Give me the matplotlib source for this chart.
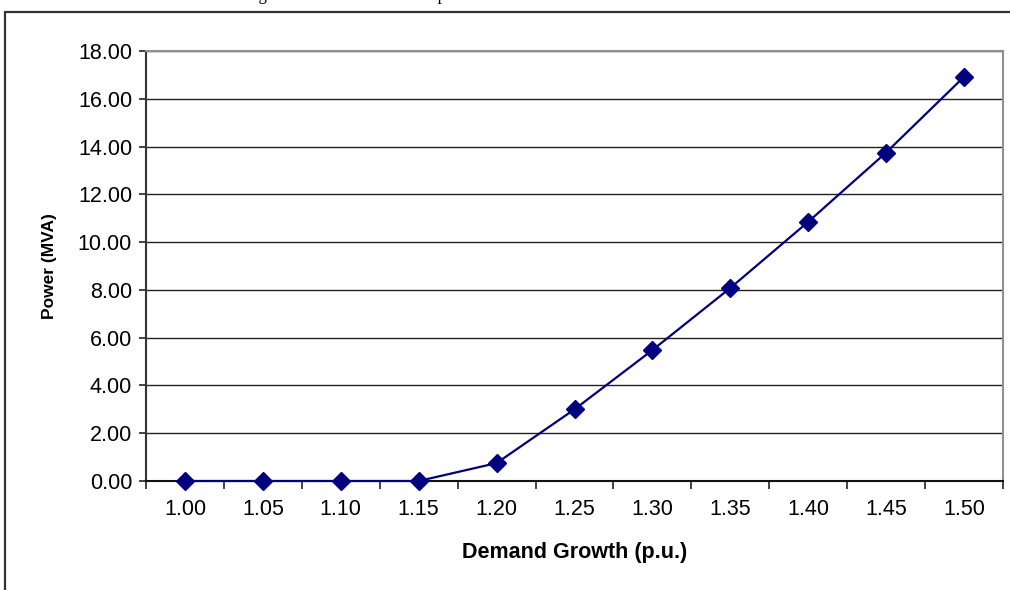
import numpy as np
import matplotlib
matplotlib.use("Agg")
import matplotlib.pyplot as plt
from matplotlib.patches import Rectangle

plt.rcParams['font.family'] = ['Liberation Sans', 'DejaVu Sans']

growth_labels = ["1.00", "1.05", "1.10", "1.15", "1.20", "1.25",
                 "1.30", "1.35", "1.40", "1.45", "1.50"]
power_mva = [0.0, 0.0, 0.0, 0.0, 0.75, 3.0, 5.48, 8.08, 10.85, 13.75, 16.92]
y_ticks = [0, 2, 4, 6, 8, 10, 12, 14, 16, 18]

W, H = 1010, 590
fig = plt.figure(figsize=(W / 100, H / 100), dpi=100)

# outer frame of the embedded chart object
fig.add_artist(Rectangle((5 / W, -0.1), 1.2, 1 - 12 / H + 0.1,
                         transform=fig.transFigure, fill=False,
                         edgecolor="#333333", linewidth=1.6, clip_on=False))
# document caption above the chart, only its descenders still on the page
fig.text(198 / W, 1 + 0.5 / H, "Demand growth versus the reactive power",
         family="Liberation Serif", fontsize=12, ha="left", va="baseline")

ax = fig.add_axes([146 / W, 1 - 481 / H, (1003 - 146) / W, (481 - 51) / H])

x = np.arange(len(growth_labels))
ax.plot(x, power_mva, color="#000080", linewidth=1.6, marker="D",
        markersize=9, markerfacecolor="#000080", markeredgecolor="#000080",
        clip_on=False, zorder=3)

ax.set_xlim(-0.5, len(growth_labels) - 0.5)
ax.set_ylim(0, 18)
ax.set_yticks(y_ticks)
ax.set_yticklabels([f"{v:.2f}" for v in y_ticks], fontsize=15.5)
ax.set_xticks(x)
ax.set_xticklabels(growth_labels, fontsize=15.5)
ax.tick_params(axis="x", length=0, pad=13)
ax.set_xticks(np.arange(len(growth_labels) + 1) - 0.5, minor=True)
ax.tick_params(axis="x", which="minor", length=6, width=1.2, color="#222222")
ax.tick_params(axis="y", length=5, width=1.2, color="#222222", pad=5)

ax.yaxis.grid(True, color="#222222", linewidth=1.0)
ax.set_axisbelow(True)

for side in ("top", "right"):
    ax.spines[side].set_color("#909090")
    ax.spines[side].set_linewidth(1.5)
ax.spines["left"].set_color("#333333")
ax.spines["left"].set_linewidth(1.5)
ax.spines["bottom"].set_color("#111111")
ax.spines["bottom"].set_linewidth(1.5)

ax.set_xlabel("Demand Growth (p.u.)", fontsize=15.5, fontweight="bold", labelpad=16)
ax.set_ylabel("Power (MVA)", fontsize=12.5, fontweight="bold", labelpad=15)

fig.savefig("out.png", dpi=100)
